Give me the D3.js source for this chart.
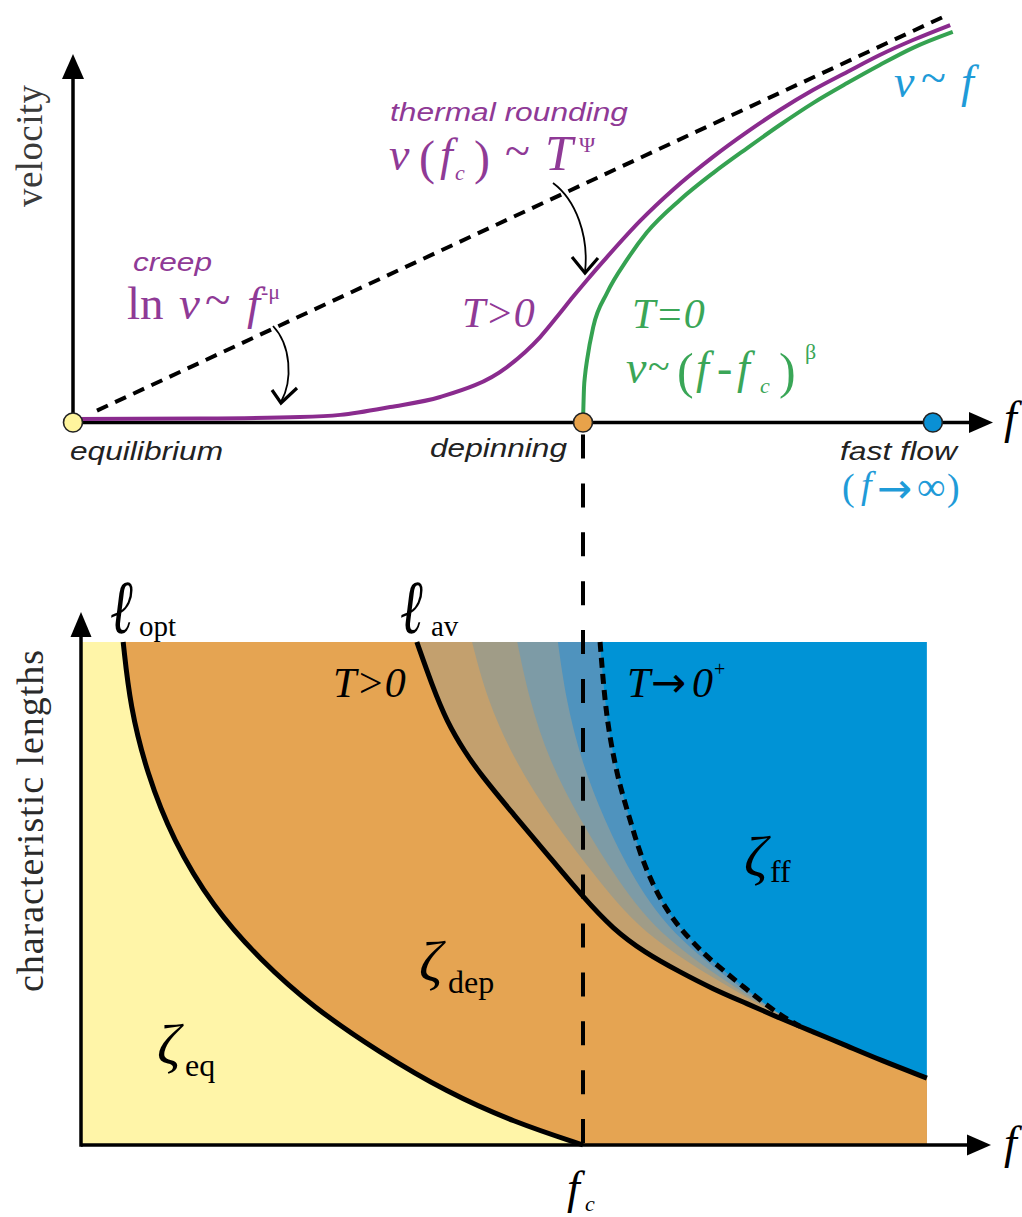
<!DOCTYPE html>
<html>
<head>
<meta charset="utf-8">
<script src="https://cdn.jsdelivr.net/npm/d3@7"></script>
<style>
  body { margin: 0; background: #fff; }
  svg { display: block; }
  text { font-family: "Liberation Serif", "Times New Roman", serif; }
  .sans { font-family: "Liberation Sans", Arial, sans-serif; font-style: italic; }
  .arrow { font-family: "DejaVu Sans", sans-serif; }
</style>
</head>
<body>
<svg id="chart" width="1022" height="1217"></svg>
<script>
// ---------- Upper panel: velocity vs. driving force (f in units of f_c) ----------
// Linear fast-flow asymptote v ~ f
const fastFlowLine = [[0.047, 0.05], [1.714, 1.712]];
// Finite temperature: creep, thermal rounding, then flow
const velocityThermal = [
  [0.0, 0.015], [0.249, 0.017], [0.445, 0.023], [0.524, 0.032], [0.622, 0.065],
  [0.720, 0.107], [0.851, 0.233], [0.916, 0.359], [0.955, 0.460], [0.980, 0.527],
  [1.008, 0.599], [1.047, 0.695], [1.112, 0.847], [1.176, 0.977], [1.255, 1.116],
  [1.322, 1.221], [1.386, 1.313], [1.451, 1.397], [1.518, 1.473], [1.582, 1.544],
  [1.647, 1.607], [1.720, 1.670]
];
// Zero temperature: depinning transition at f = f_c
const velocityZeroT = [
  [1.0, 0.0], [1.002, 0.147], [1.004, 0.198], [1.008, 0.263], [1.020, 0.401],
  [1.047, 0.544], [1.086, 0.683], [1.125, 0.798], [1.190, 0.935], [1.255, 1.048],
  [1.322, 1.153], [1.386, 1.250], [1.451, 1.342], [1.518, 1.426], [1.582, 1.502],
  [1.647, 1.574], [1.725, 1.641]
];
// Fixed points on the force axis
const fixedPoints = [
  { name: "equilibrium", f: 0.0,   color: "#fff59d" },
  { name: "depinning",   f: 1.0,   color: "#e8a24a" },
  { name: "fast flow",   f: 1.686, color: "#0a90d4" }
];

// ---------- Lower panel: characteristic lengths vs. f ----------
const regionMaxF = 1.685;
const regionMaxL = 1.0;
// Optimal (creep) length l_opt
const lengthOpt = [
  [0.084, 1.0], [0.098, 0.871], [0.131, 0.740], [0.183, 0.606], [0.263, 0.473],
  [0.357, 0.368], [0.462, 0.274], [0.596, 0.183], [0.729, 0.105], [0.861, 0.046],
  [1.0, 0.0]
];
// Avalanche length l_av (T > 0)
const lengthAv = [
  [0.669, 1.0], [0.699, 0.915], [0.729, 0.841], [0.765, 0.781], [0.795, 0.738],
  [0.861, 0.658], [0.928, 0.579], [1.0, 0.493], [1.060, 0.429], [1.124, 0.382],
  [1.193, 0.344], [1.259, 0.310], [1.327, 0.281], [1.392, 0.252], [1.458, 0.225],
  [1.526, 0.197], [1.592, 0.169], [1.685, 0.133]
];
// Boundary in the limit T -> 0+
const lengthZeroPlus = [
  [1.034, 1.0], [1.040, 0.924], [1.048, 0.845], [1.060, 0.775], [1.074, 0.712],
  [1.094, 0.646], [1.113, 0.581], [1.139, 0.517], [1.167, 0.467], [1.193, 0.431],
  [1.233, 0.388], [1.259, 0.364], [1.327, 0.308], [1.392, 0.258], [1.432, 0.236]
];
// Intermediate temperature contours between l_av and the T -> 0+ boundary
const contourA = [[0.779, 1.0], [0.809, 0.885], [0.863, 0.765], [0.938, 0.646], [1.030, 0.527], [1.129, 0.408], [1.335, 0.288], [1.432, 0.236]];
const contourB = [[0.869, 1.0], [0.893, 0.885], [0.932, 0.765], [0.994, 0.646], [1.068, 0.527], [1.159, 0.408], [1.341, 0.288], [1.432, 0.236]];
const contourC = [[0.950, 1.0], [0.966, 0.885], [0.996, 0.765], [1.042, 0.646], [1.101, 0.527], [1.185, 0.408], [1.347, 0.288], [1.432, 0.236]];

const colors = {
  purple: "#8a2b8e", purpleText: "#8f3a96", green: "#35a251", greenText: "#3aa657",
  blueText: "#1f9bd8", eq: "#fff5a8", dep: "#e5a452", ff: "#0093d6",
  bands: ["#4f93be", "#7d9ba6", "#a09c87", "#c3a06e"]
};

const svg = d3.select("#chart");

// ===== Upper panel =====
const xTop = d3.scaleLinear().domain([0, 1]).range([73, 583]);
const yTop = d3.scaleLinear().domain([0, 1]).range([422.5, 184.5]);
const lineTop = d3.line().x(d => xTop(d[0])).y(d => yTop(d[1])).curve(d3.curveMonotoneX);

const gTop = svg.append("g");

// asymptote
gTop.append("path")
  .attr("d", d3.line().x(d => xTop(d[0])).y(d => yTop(d[1]))(fastFlowLine))
  .attr("fill", "none").attr("stroke", "#000").attr("stroke-width", 4)
  .attr("stroke-dasharray", "12,8");

// axes
gTop.append("line").attr("x1", xTop(0)).attr("x2", xTop(0)).attr("y1", yTop(0)).attr("y2", 74)
  .attr("stroke", "#000").attr("stroke-width", 3.5);
gTop.append("path").attr("d", `M${xTop(0)},54L${xTop(0) - 11},79L${xTop(0) + 11},79Z`).attr("fill", "#000");
gTop.append("line").attr("x1", xTop(0)).attr("x2", 974).attr("y1", yTop(0)).attr("y2", yTop(0))
  .attr("stroke", "#000").attr("stroke-width", 3.5);
gTop.append("path").attr("d", `M993,${yTop(0)}L969,${yTop(0) - 10.5}L969,${yTop(0) + 10.5}Z`).attr("fill", "#000");

// velocity curves
gTop.append("path").attr("d", lineTop(velocityZeroT))
  .attr("fill", "none").attr("stroke", colors.green).attr("stroke-width", 4);
gTop.append("path").attr("d", lineTop(velocityThermal))
  .attr("fill", "none").attr("stroke", colors.purple).attr("stroke-width", 4);

// curved annotation arrows
function curvedArrow(g, d, head) {
  g.append("path").attr("d", d).attr("fill", "none").attr("stroke", "#000").attr("stroke-width", 1.8);
  g.append("path").attr("d", head).attr("fill", "none").attr("stroke", "#000")
    .attr("stroke-width", 3.2).attr("stroke-linejoin", "miter");
}
curvedArrow(gTop, "M273,326C291,345 293,380 281,402", "M272,390L281,403L297,388");
curvedArrow(gTop, "M553,183C576,200 589,236 585,272", "M572,257L585,273L598,258");

// ===== Lower panel =====
const xBot = d3.scaleLinear().domain([0, 1]).range([81, 583]);
const yBot = d3.scaleLinear().domain([0, 1]).range([1145, 642]);
const lineBot = d3.line().x(d => xBot(d[0])).y(d => yBot(d[1])).curve(d3.curveBasis);

const gBottom = svg.append("g");

// region to the left of / below a boundary curve, closed along the frame
function regionPath(curve) {
  const last = curve[curve.length - 1];
  const body = lineBot(curve).replace(/^M/, "L");
  return `M${xBot(0)},${yBot(regionMaxL)}` + body +
    `L${xBot(last[0])},${yBot(0)}L${xBot(0)},${yBot(0)}Z`;
}
// a contour that merges into l_av continues along it
function withAvTail(curve) {
  const endF = curve[curve.length - 1][0];
  return curve.concat(lengthAv.filter(p => p[0] > endF + 1e-6));
}

gBottom.append("rect")
  .attr("x", xBot(0)).attr("y", yBot(regionMaxL))
  .attr("width", xBot(regionMaxF) - xBot(0)).attr("height", yBot(0) - yBot(regionMaxL))
  .attr("fill", colors.ff);

[lengthZeroPlus, contourC, contourB, contourA].forEach((c, i) => {
  gBottom.append("path").attr("d", regionPath(withAvTail(c))).attr("fill", colors.bands[i]);
});
gBottom.append("path").attr("d", regionPath(lengthAv)).attr("fill", colors.dep);
gBottom.append("path").attr("d", regionPath(lengthOpt)).attr("fill", colors.eq);

// f_c guide line joining both panels
svg.append("line").attr("x1", xTop(1)).attr("x2", xTop(1)).attr("y1", 434.5).attr("y2", yBot(0))
  .attr("stroke", "#000").attr("stroke-width", 4).attr("stroke-dasharray", "24,24.9");

// boundary curves
gBottom.append("path").attr("d", lineBot(lengthZeroPlus)).attr("fill", "none")
  .attr("stroke", "#000").attr("stroke-width", 5).attr("stroke-dasharray", "10,6");
gBottom.append("path").attr("d", lineBot(lengthOpt)).attr("fill", "none")
  .attr("stroke", "#000").attr("stroke-width", 5);
gBottom.append("path").attr("d", lineBot(lengthAv)).attr("fill", "none")
  .attr("stroke", "#000").attr("stroke-width", 5);

// axes
gBottom.append("line").attr("x1", xBot(0)).attr("x2", xBot(0)).attr("y1", yBot(0) + 1.75).attr("y2", 632)
  .attr("stroke", "#000").attr("stroke-width", 3.5);
gBottom.append("path").attr("d", `M${xBot(0)},612L${xBot(0) - 10.5},637L${xBot(0) + 10.5},637Z`).attr("fill", "#000");
gBottom.append("line").attr("x1", xBot(0)).attr("x2", 972).attr("y1", yBot(0)).attr("y2", yBot(0))
  .attr("stroke", "#000").attr("stroke-width", 3.5);
gBottom.append("path").attr("d", `M991,${yBot(0)}L967,${yBot(0) - 10.5}L967,${yBot(0) + 10.5}Z`).attr("fill", "#000");

// fixed-point markers on the upper force axis
gTop.selectAll("circle").data(fixedPoints).join("circle")
  .attr("cx", d => xTop(d.f)).attr("cy", yTop(0)).attr("r", 9.5)
  .attr("fill", d => d.color).attr("stroke", "#222").attr("stroke-width", 1.6);

// ===== Text =====
// one <text> per label; each piece is a tspan [x, y, string, size, options]
function label(fill, pieces) {
  const t = svg.append("text").attr("fill", fill);
  pieces.forEach(([x, y, s, size, o = {}]) => {
    const ts = t.append("tspan").attr("x", x).attr("y", y).attr("font-size", size).text(s);
    if (o.it) ts.attr("font-style", "italic");
    if (o.cls) ts.attr("class", o.cls);
    if (o.len) ts.attr("textLength", o.len).attr("lengthAdjust", "spacingAndGlyphs");
  });
  return t;
}
function vertical(x, y, s, size, len, fill) {
  svg.append("text").attr("transform", `translate(${x},${y}) rotate(-90)`)
    .attr("text-anchor", "middle").attr("font-size", size).attr("fill", fill)
    .attr("textLength", len).text(s);
}
// script ell, narrowed to a calligraphic proportion
function ell(x, y) {
  svg.append("text").attr("transform", `translate(${x},${y}) scale(0.72,1)`)
    .attr("font-size", 76).attr("font-style", "italic").attr("fill", "#000").text("ℓ");
}
const I = { it: true };
const SANS = (len) => ({ cls: "sans", len });
const ARROW = { cls: "arrow" };
const P = colors.purpleText, G = colors.greenText, B = colors.blueText;

// axis titles
vertical(42, 146, "velocity", 37, 122, "#3a3a3a");
vertical(43, 821, "characteristic lengths", 38, 342, "#2a2a2a");
label("#000", [[1004, 433, "f", 46, I]]);
label("#000", [[1004, 1158, "f", 46, I]]);

// regime names
label("#222", [[70, 460, "equilibrium", 25, SANS(153)]]);
label("#222", [[430, 457, "depinning", 25, SANS(137)]]);
label("#222", [[840, 460, "fast flow", 25, SANS(117)]]);

// creep law
label(P, [[133, 271, "creep", 26, SANS(79)]]);
label(P, [
  [127, 319, "ln", 47], [179, 319, "v", 47, I], [205, 315, "~", 47],
  [247, 319, "f", 47, I], [261, 299, "-μ", 22]
]);

// thermal rounding
label(P, [[390, 121, "thermal rounding", 26, SANS(238)]]);
label(P, [
  [389, 170, "v", 46, I], [419, 174, "(", 48], [440, 170, "f", 46, I],
  [455, 180, "c", 22, I], [474, 174, ")", 48], [505, 166, "~", 46],
  [545, 170, "T", 50, I], [579, 152, "Ψ", 22]
]);
label(P, [[462, 327, "T>0", 42, I]]);

// zero-temperature depinning
label(G, [[632, 328, "T=0", 42, I]]);
label(G, [
  [626, 383, "v", 46, I], [648, 380, "~", 40], [677, 388, "(", 50],
  [696, 383, "f", 46, I], [717, 383, "-", 46], [737, 383, "f", 46, I],
  [760, 393, "c", 22, I], [779, 388, ")", 50], [805, 359, "β", 22]
]);

// fast flow
label(B, [[894, 97, "v", 46, I], [921, 93, "~", 46], [961, 97, "f", 46, I]]);
label(B, [
  [842, 500, "(", 38], [861, 498, "f", 38, I], [877, 503, "→", 42, ARROW],
  [917, 500, "∞", 40], [947, 500, ")", 38]
]);

// lower panel labels
ell(110, 633);
label("#000", [[139, 636, "opt", 29]]);
ell(400, 633);
label("#000", [[431, 636, "av", 29]]);
label("#000", [[333, 697, "T>0", 42, I]]);
label("#000", [[627, 697, "T", 42, I], [651, 697, "→", 42, ARROW], [692, 697, "0", 42, I], [714, 676, "+", 20]]);
label("#000", [[744, 876, "ζ", 58, I], [770, 882, "ff", 32]]);
label("#000", [[419, 981, "ζ", 58, I], [448, 993, "dep", 32]]);
label("#000", [[157, 1064, "ζ", 58, I], [185, 1076, "eq", 32]]);
label("#000", [[567, 1203, "f", 46, I], [585, 1211, "c", 22, I]]);
</script>
</body>
</html>
